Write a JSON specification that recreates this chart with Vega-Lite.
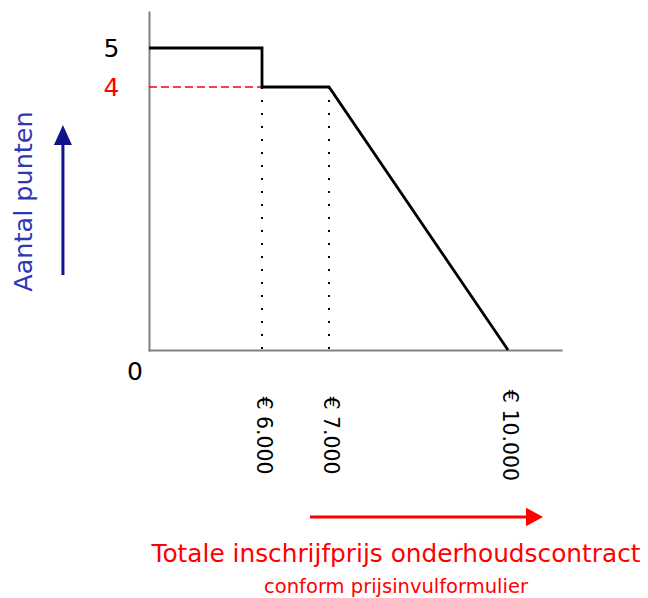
{
  "$schema": "https://vega.github.io/schema/vega-lite/v6.json",
  "width": 412,
  "height": 338,
  "autosize": {"type": "none"},
  "padding": {"left": 149, "top": 12, "right": 87, "bottom": 248},
  "background": "white",
  "config": {"view": {"stroke": null}, "font": "DejaVu Sans"},
  "title": {
    "text": "Totale inschrijfprijs onderhoudscontract",
    "subtitle": "conform prijsinvulformulier",
    "orient": "bottom",
    "anchor": "middle",
    "frame": "group",
    "dx": 41,
    "offset": 16,
    "font": "DejaVu Sans",
    "fontSize": 24.8,
    "fontWeight": "normal",
    "color": "#ff0000",
    "subtitleFont": "DejaVu Sans",
    "subtitleFontSize": 19.5,
    "subtitleColor": "#ff0000",
    "subtitlePadding": 11
  },
  "datasets": {
    "curve": [
      {"step": 1, "price": 0, "points": 5},
      {"step": 2, "price": 6000, "points": 5},
      {"step": 3, "price": 6000, "points": 4},
      {"step": 4, "price": 7000, "points": 4},
      {"step": 5, "price": 10000, "points": 0}
    ],
    "drops": [
      {"price": 6000, "points": 4, "points2": 0},
      {"price": 7000, "points": 4, "points2": 0}
    ],
    "level": [{"price": 0, "price2": 6000, "points": 4}],
    "origin": [{"price": 0, "points": 0, "label": "0"}],
    "yShaft": [{"price": -4570, "points": 1.14, "points2": 3.2}],
    "yHead": [{"price": -4570, "points": 3.27}],
    "xShaft": [{"price": 6716, "price2": 10400, "points": -2.54}],
    "xHead": [{"price": 10450, "points": -2.54}]
  },
  "encoding": {
    "x": {
      "field": "price",
      "type": "quantitative",
      "scale": {"type": "linear", "domain": [0, 6000, 7000, 10000, 10900], "range": [0, 113, 180, 359, 412], "zero": false, "nice": false},
      "axis": {
        "values": [6000, 7000, 10000],
        "labelExpr": "'€ ' + replace(format(datum.value, ','), ',', '.')",
        "labelAngle": 90,
        "labelAlign": "center",
        "labelBaseline": "middle",
        "labelPadding": 85,
        "labelFont": "DejaVu Sans",
        "labelFontSize": 20.5,
        "labelColor": "black",
        "labelFlush": false,
        "labelOverlap": false,
        "ticks": false,
        "tickSize": 0,
        "grid": false,
        "domainColor": "#808080",
        "domainWidth": 2,
        "domainCap": "square",
        "title": null
      }
    },
    "y": {
      "field": "points",
      "type": "quantitative",
      "scale": {"type": "linear", "domain": [0, 4, 5, 5.92], "range": [338, 75, 36, 0], "zero": false, "nice": false},
      "axis": {
        "values": [4, 5],
        "labelFont": "DejaVu Sans",
        "labelFontSize": 25,
        "labelColor": {"condition": {"test": "datum.value == 4", "value": "#ff0000"}, "value": "black"},
        "labelPadding": 30,
        "labelFlush": false,
        "labelOverlap": false,
        "ticks": false,
        "tickSize": 0,
        "grid": false,
        "domainColor": "#808080",
        "domainWidth": 2,
        "domainCap": "square",
        "title": "Aantal punten",
        "titleFont": "DejaVu Sans",
        "titleFontSize": 25.5,
        "titleFontWeight": "normal",
        "titleColor": "#2f37b8",
        "titleX": -126,
        "titleY": 189,
        "titleAngle": -90,
        "titleAlign": "center",
        "titleBaseline": "middle"
      }
    }
  },
  "layer": [
    {
      "data": {"name": "level"},
      "mark": {"type": "rule", "color": "#ff0000", "strokeWidth": 1.5, "strokeDash": [8, 4]},
      "encoding": {"x2": {"field": "price2"}}
    },
    {
      "data": {"name": "drops"},
      "mark": {"type": "rule", "color": "black", "strokeWidth": 2, "strokeDash": [2, 11]},
      "encoding": {"y2": {"field": "points2"}}
    },
    {
      "data": {"name": "curve"},
      "mark": {"type": "line", "color": "black", "strokeWidth": 2.8},
      "encoding": {"order": {"field": "step", "type": "quantitative"}}
    },
    {
      "data": {"name": "origin"},
      "mark": {"type": "text", "font": "DejaVu Sans", "fontSize": 25, "color": "black", "dx": -14, "dy": 22, "align": "center", "baseline": "middle"},
      "encoding": {"text": {"field": "label"}}
    },
    {
      "data": {"name": "yShaft"},
      "mark": {"type": "rule", "color": "#12128c", "strokeWidth": 3},
      "encoding": {"y2": {"field": "points2"}}
    },
    {
      "data": {"name": "yHead"},
      "mark": {"type": "point", "shape": "M0,-1L0.9,1L-0.9,1Z", "size": 400, "filled": true, "color": "#12128c", "opacity": 1},
      "encoding": {}
    },
    {
      "data": {"name": "xShaft"},
      "mark": {"type": "rule", "color": "#ff0000", "strokeWidth": 3},
      "encoding": {"x2": {"field": "price2"}}
    },
    {
      "data": {"name": "xHead"},
      "mark": {"type": "point", "shape": "M1,0L-1,1.1L-1,-1.1Z", "size": 289, "filled": true, "color": "#ff0000", "opacity": 1},
      "encoding": {}
    }
  ]
}
